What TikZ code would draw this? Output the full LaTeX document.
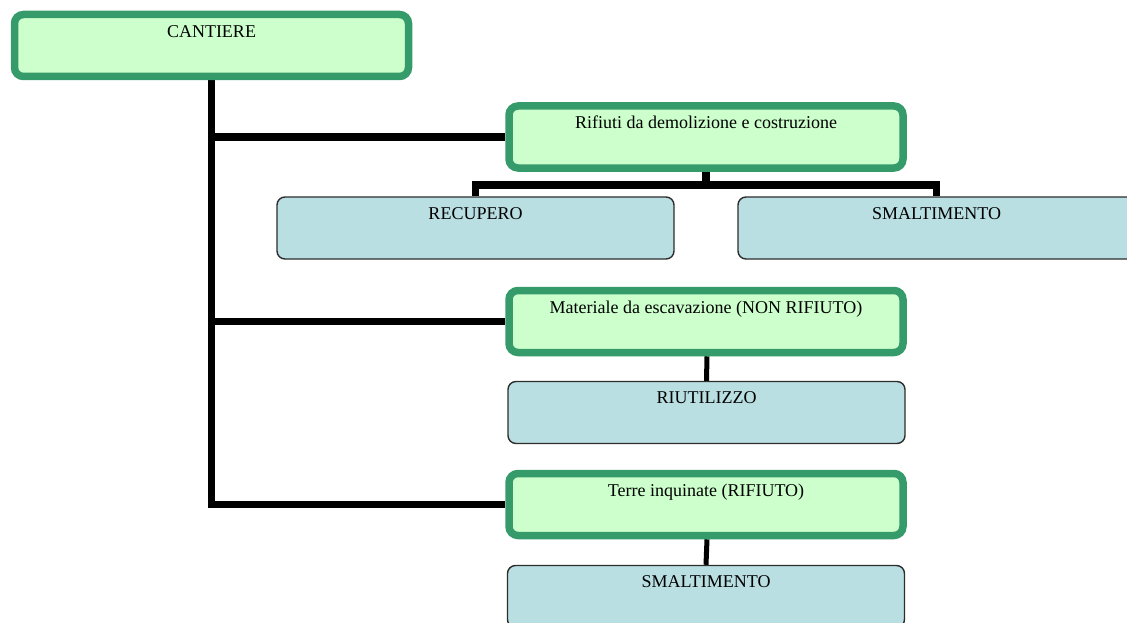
\documentclass[tikz,border=0pt]{standalone}
\usepackage{fontspec}
\setmainfont{Liberation Serif}
\usetikzlibrary{backgrounds}
\definecolor{gborder}{RGB}{54,155,106}
\definecolor{gfill}{RGB}{204,255,204}
\definecolor{bfill}{RGB}{185,223,226}
\definecolor{bborder}{RGB}{45,45,45}
\tikzset{
  gbox/.style={draw=gborder, fill=gfill, line width=7.5pt, rounded corners=9pt,
    minimum width=394pt, minimum height=62pt, inner sep=0pt,
    text height=23pt, text depth=39pt,
    font=\fontsize{18}{20}\selectfont},
  bbox/.style={draw=bborder, fill=bfill, line width=1.4pt, rounded corners=8pt,
    minimum width=397pt, minimum height=62pt, inner sep=0pt,
    text height=22pt, text depth=40pt,
    font=\fontsize{18}{20}\selectfont},
  trunk/.style={draw=black, line width=7.5pt},
  stem/.style={draw=black, line width=5pt}
}
\begin{document}
\begin{tikzpicture}[x=1pt,y=-1pt]
\useasboundingbox (0,0) rectangle (1127,623);
\clip (0,0) rectangle (1127,623);

% boxes
\node[gbox] (cant) at (211.5,45.5) {CANTIERE};
\node[gbox] (rif)  at (706,137)    {Rifiuti da demolizione e costruzione};
\node[bbox] (rec)  at (475.5,228)  {RECUPERO};
\node[bbox] (sma)  at (936.5,228)  {SMALTIMENTO};
\node[gbox] (mat)  at (706,321.5)  {Materiale da escavazione (NON RIFIUTO)};
\node[bbox] (riu)  at (706.5,412.5){RIUTILIZZO};
\node[gbox] (ter)  at (706,504.5)  {Terre inquinate (RIFIUTO)};
\node[bbox] (smb)  at (706,596.5)  {SMALTIMENTO};

% connectors behind the boxes
\begin{scope}[on background layer]
  \draw[trunk] (cant.south) |- (ter.west);
  \draw[trunk] (cant.south |- rif.west) -- (rif.west);
  \draw[trunk] (cant.south |- mat.west) -- (mat.west);
  \draw[trunk] (rif.south) -- ++(0,13) coordinate (fork);
  \draw[trunk] (rec.north) -- (rec.north |- fork) -- (sma.north |- fork) -- (sma.north);
  \draw[stem] ([xshift=1pt]mat.south) -- (riu.north);
  \draw[stem] ([xshift=1pt]ter.south) -- (smb.north);
\end{scope}
\end{tikzpicture}
\end{document}
